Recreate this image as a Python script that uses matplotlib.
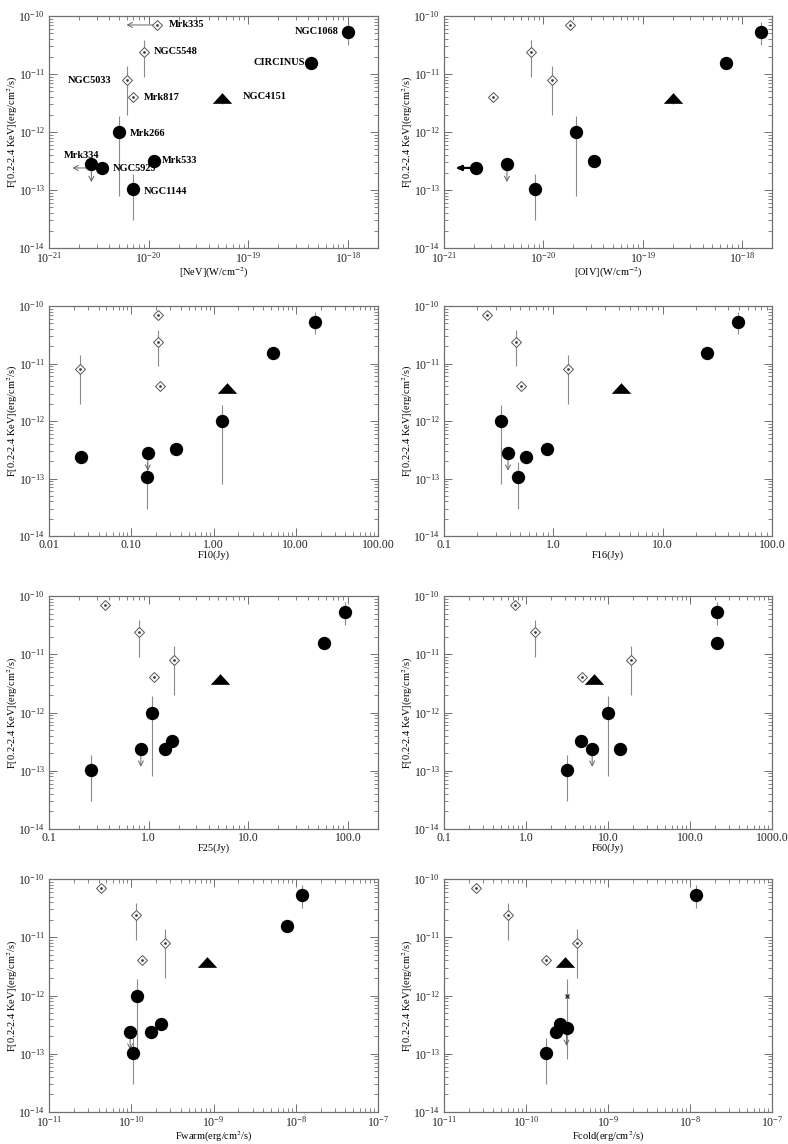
import numpy as np
import matplotlib
matplotlib.use("Agg")
import matplotlib.pyplot as plt
from matplotlib.path import Path

plt.rcParams["font.family"] = "serif"
plt.rcParams["font.serif"] = ["Liberation Serif", "DejaVu Serif"]
plt.rcParams["mathtext.fontset"] = "stix"

nan = np.nan

# sources (same order in every panel)
names = ["Mrk335", "NGC5548", "NGC5033", "Mrk817", "NGC4151", "NGC1068",
         "CIRCINUS", "Mrk266", "Mrk334", "NGC5929", "Mrk533", "NGC1144"]
kind = ["d", "d", "d", "d", "t", "c", "c", "c", "c", "c", "c", "c"]

# soft X-ray flux F[0.2-2.4 keV] and its error range
y_flux = [7e-11, 2.4e-11, 8e-12, 4e-12, 3.8e-12, 5.3e-11,
          1.55e-11, 1e-12, 2.8e-13, 2.4e-13, 3.2e-13, 1.05e-13]
y_lo = [nan, 9e-12, 2e-12, nan, 3.1e-12, 3.2e-11,
        nan, 8e-14, nan, nan, nan, 3e-14]
y_hi = [nan, 3.9e-11, 1.4e-11, nan, 3.8e-12, 8e-11,
        nan, 1.9e-12, nan, nan, nan, 1.9e-13]
# Mrk334 sits a bit lower in some panels
y_mrk334 = [2.8e-13, 2.8e-13, 2.8e-13, 2.8e-13, 2.4e-13, 2.4e-13, 2.4e-13, 2.8e-13]

x_nev = [1.2e-20, 8.9e-21, 6.1e-21, 7.0e-21, 5.5e-20, 1.0e-18,
         4.3e-19, 5.05e-21, 2.66e-21, 3.44e-21, 1.13e-20, 7.0e-21]
x_oiv = [1.87e-20, 7.5e-21, 1.21e-20, 3.1e-21, 2.0e-19, 1.54e-18,
         6.9e-19, 2.13e-20, 4.3e-21, 2.08e-21, 3.25e-20, 8.2e-21]
x_f10 = [0.209, 0.21, 0.0239, 0.223, 1.44, 17.3,
         5.36, 1.27, 0.159, 0.0243, 0.349, 0.154]
x_f16 = [0.247, 0.452, 1.35, 0.502, 4.17, 48.6,
         25.3, 0.33, 0.385, 0.557, 0.88, 0.474]
x_f25 = [0.365, 0.797, 1.78, 1.12, 5.19, 92.6,
         56.9, 1.07, 0.835, 1.46, 1.73, 0.261]
x_f60 = [0.74, 1.27, 19.1, 4.84, 6.66, 214.0,
         214.0, 10.05, 6.41, 13.9, 4.71, 3.12]
x_warm = [4.26e-11, 1.13e-10, 2.59e-10, 1.37e-10, 8.4e-10, 1.2e-8,
          7.9e-9, 1.16e-10, 9.7e-11, 1.73e-10, 2.29e-10, 1.04e-10]
x_cold = [2.43e-11, 6.02e-11, 4.21e-10, 1.73e-10, 3.0e-10, 1.19e-8,
          nan, 3.2e-10, 3.12e-10, 2.29e-10, 2.59e-10, 1.77e-10]

xlabels = ["[NeV](W/cm$^{-2}$)", "[OIV](W/cm$^{-2}$)", "F10(Jy)", "F16(Jy)",
           "F25(Jy)", "F60(Jy)", "Fwarm(erg/cm$^2$/s)", "Fcold(erg/cm$^2$/s)"]
xlims = [(1e-21, 2e-18), (1e-21, 2e-18), (0.01, 100), (0.1, 100),
         (0.1, 200), (0.1, 1000), (1e-11, 1e-7), (1e-11, 1e-7)]
fixed_ticks = [None, None,
               ([0.01, 0.1, 1, 10, 100], ["0.01", "0.10", "1.00", "10.00", "100.00"]),
               ([0.1, 1, 10, 100], ["0.1", "1.0", "10.0", "100.0"]),
               ([0.1, 1, 10, 100], ["0.1", "1.0", "10.0", "100.0"]),
               ([0.1, 1, 10, 100, 1000], ["0.1", "1.0", "10.0", "100.0", "1000.0"]),
               None, None]
xdata = [x_nev, x_oiv, x_f10, x_f16, x_f25, x_f60, x_warm, x_cold]

# label offsets (pixels) for the first panel
lab_off = {"Mrk335": (12, 0, "left"), "NGC5548": (10, 0, "left"),
           "NGC5033": (-16, -1, "right"), "Mrk817": (11, 0, "left"),
           "NGC4151": (20, 2, "left"), "NGC1068": (-9, 0, "right"),
           "CIRCINUS": (-6, 0, "right"), "Mrk266": (11, -1, "left"),
           "Mrk334": (-10, 9, "center"), "NGC5929": (10, -1, "left"),
           "Mrk533": (8, 0, "left"), "NGC1144": (11, -3, "left")}

W, H = 788, 1144
fig = plt.figure(figsize=(W / 100, H / 100), dpi=100)
rows = [(16, 248), (306, 536), (596, 829), (879, 1112)]
cols = [(49, 378), (444, 772)]

tri = Path([(-1, -0.55), (1, -0.55), (0, 0.55), (-1, -0.55)])
frame = "#707070"
errc = "#8a8a8a"

for p in range(8):
    r, c = divmod(p, 2)
    x0, x1 = cols[c]
    t, b = rows[r]
    ax = fig.add_axes([x0 / W, 1 - b / H, (x1 - x0) / W, (b - t) / H])
    ax.set_xscale("log")
    ax.set_yscale("log")
    ax.set_xlim(*xlims[p])
    ax.set_ylim(1e-14, 1e-10)
    xs = xdata[p]
    for i, nm in enumerate(names):
        x = xs[i]
        if np.isnan(x):
            continue
        y = y_mrk334[p] if nm == "Mrk334" else y_flux[i]
        if not np.isnan(y_lo[i]):
            ax.vlines(x, y_lo[i], y_hi[i], color=errc, lw=0.8, zorder=1)
        if p == 7 and nm == "Mrk266":
            ax.plot(x, y, "x", color="#333", ms=3.5, mew=1.0, zorder=3)
        elif kind[i] == "c":
            ax.plot(x, y, "o", color="black", ms=9.6, mew=0, zorder=3)
        elif kind[i] == "d":
            ax.plot(x, y, "D", mfc="white", mec="#555", ms=4.8, mew=0.7, zorder=3)
            ax.plot(x, y, ".", color="#444", ms=2, zorder=4)
        else:
            ax.plot(x, y, marker=tri, color="black", ms=14, mew=0, ls="none", zorder=3)
        if nm == "Mrk334":
            ax.annotate("", xy=(x, y / 2.05), xytext=(x, y),
                        arrowprops=dict(arrowstyle="->,head_length=0.35,head_width=0.18",
                                        color="#666", lw=0.7, shrinkA=0, shrinkB=0), zorder=2)
        if p == 0 and nm in ("Mrk335", "NGC5929"):
            ax.annotate("", xy=(x / 2.0, y), xytext=(x, y),
                        arrowprops=dict(arrowstyle="->,head_length=0.35,head_width=0.18",
                                        color="#666", lw=0.7, shrinkA=0, shrinkB=0), zorder=2)
        if p == 1 and nm == "NGC5929":
            ax.annotate("", xy=(x / 1.6, y), xytext=(x, y),
                        arrowprops=dict(arrowstyle="-|>,head_length=0.35,head_width=0.15",
                                        color="black", lw=1.6, shrinkA=0, shrinkB=0), zorder=2)
        if p == 0:
            dx, dy, ha = lab_off[nm]
            ax.annotate(nm, (x, y), xytext=(dx, dy), textcoords="offset pixels",
                        ha=ha, va="center", fontsize=7.5, fontweight="bold")

    if fixed_ticks[p] is not None:
        tv, tl = fixed_ticks[p]
        ax.set_xticks(tv)
        ax.set_xticklabels(tl)
    ax.tick_params(which="both", direction="in", top=True, right=True,
                   color=frame, labelsize=8.5, labelcolor="#222")
    ax.tick_params(which="major", length=6, width=0.7, pad=3)
    ax.tick_params(which="minor", length=3, width=0.6)
    ax.tick_params(axis="x", which="major", pad=2)
    for s in ax.spines.values():
        s.set_color(frame)
        s.set_linewidth(0.9)
    ax.set_xlabel(xlabels[p], fontsize=7.5, labelpad=0)
    ax.set_ylabel("F[0.2-2.4 KeV](erg/cm$^2$/s)", fontsize=7.5)
    ax.yaxis.set_label_coords(-29 / (x1 - x0), 0.5)

fig.savefig("out.png", dpi=100)
